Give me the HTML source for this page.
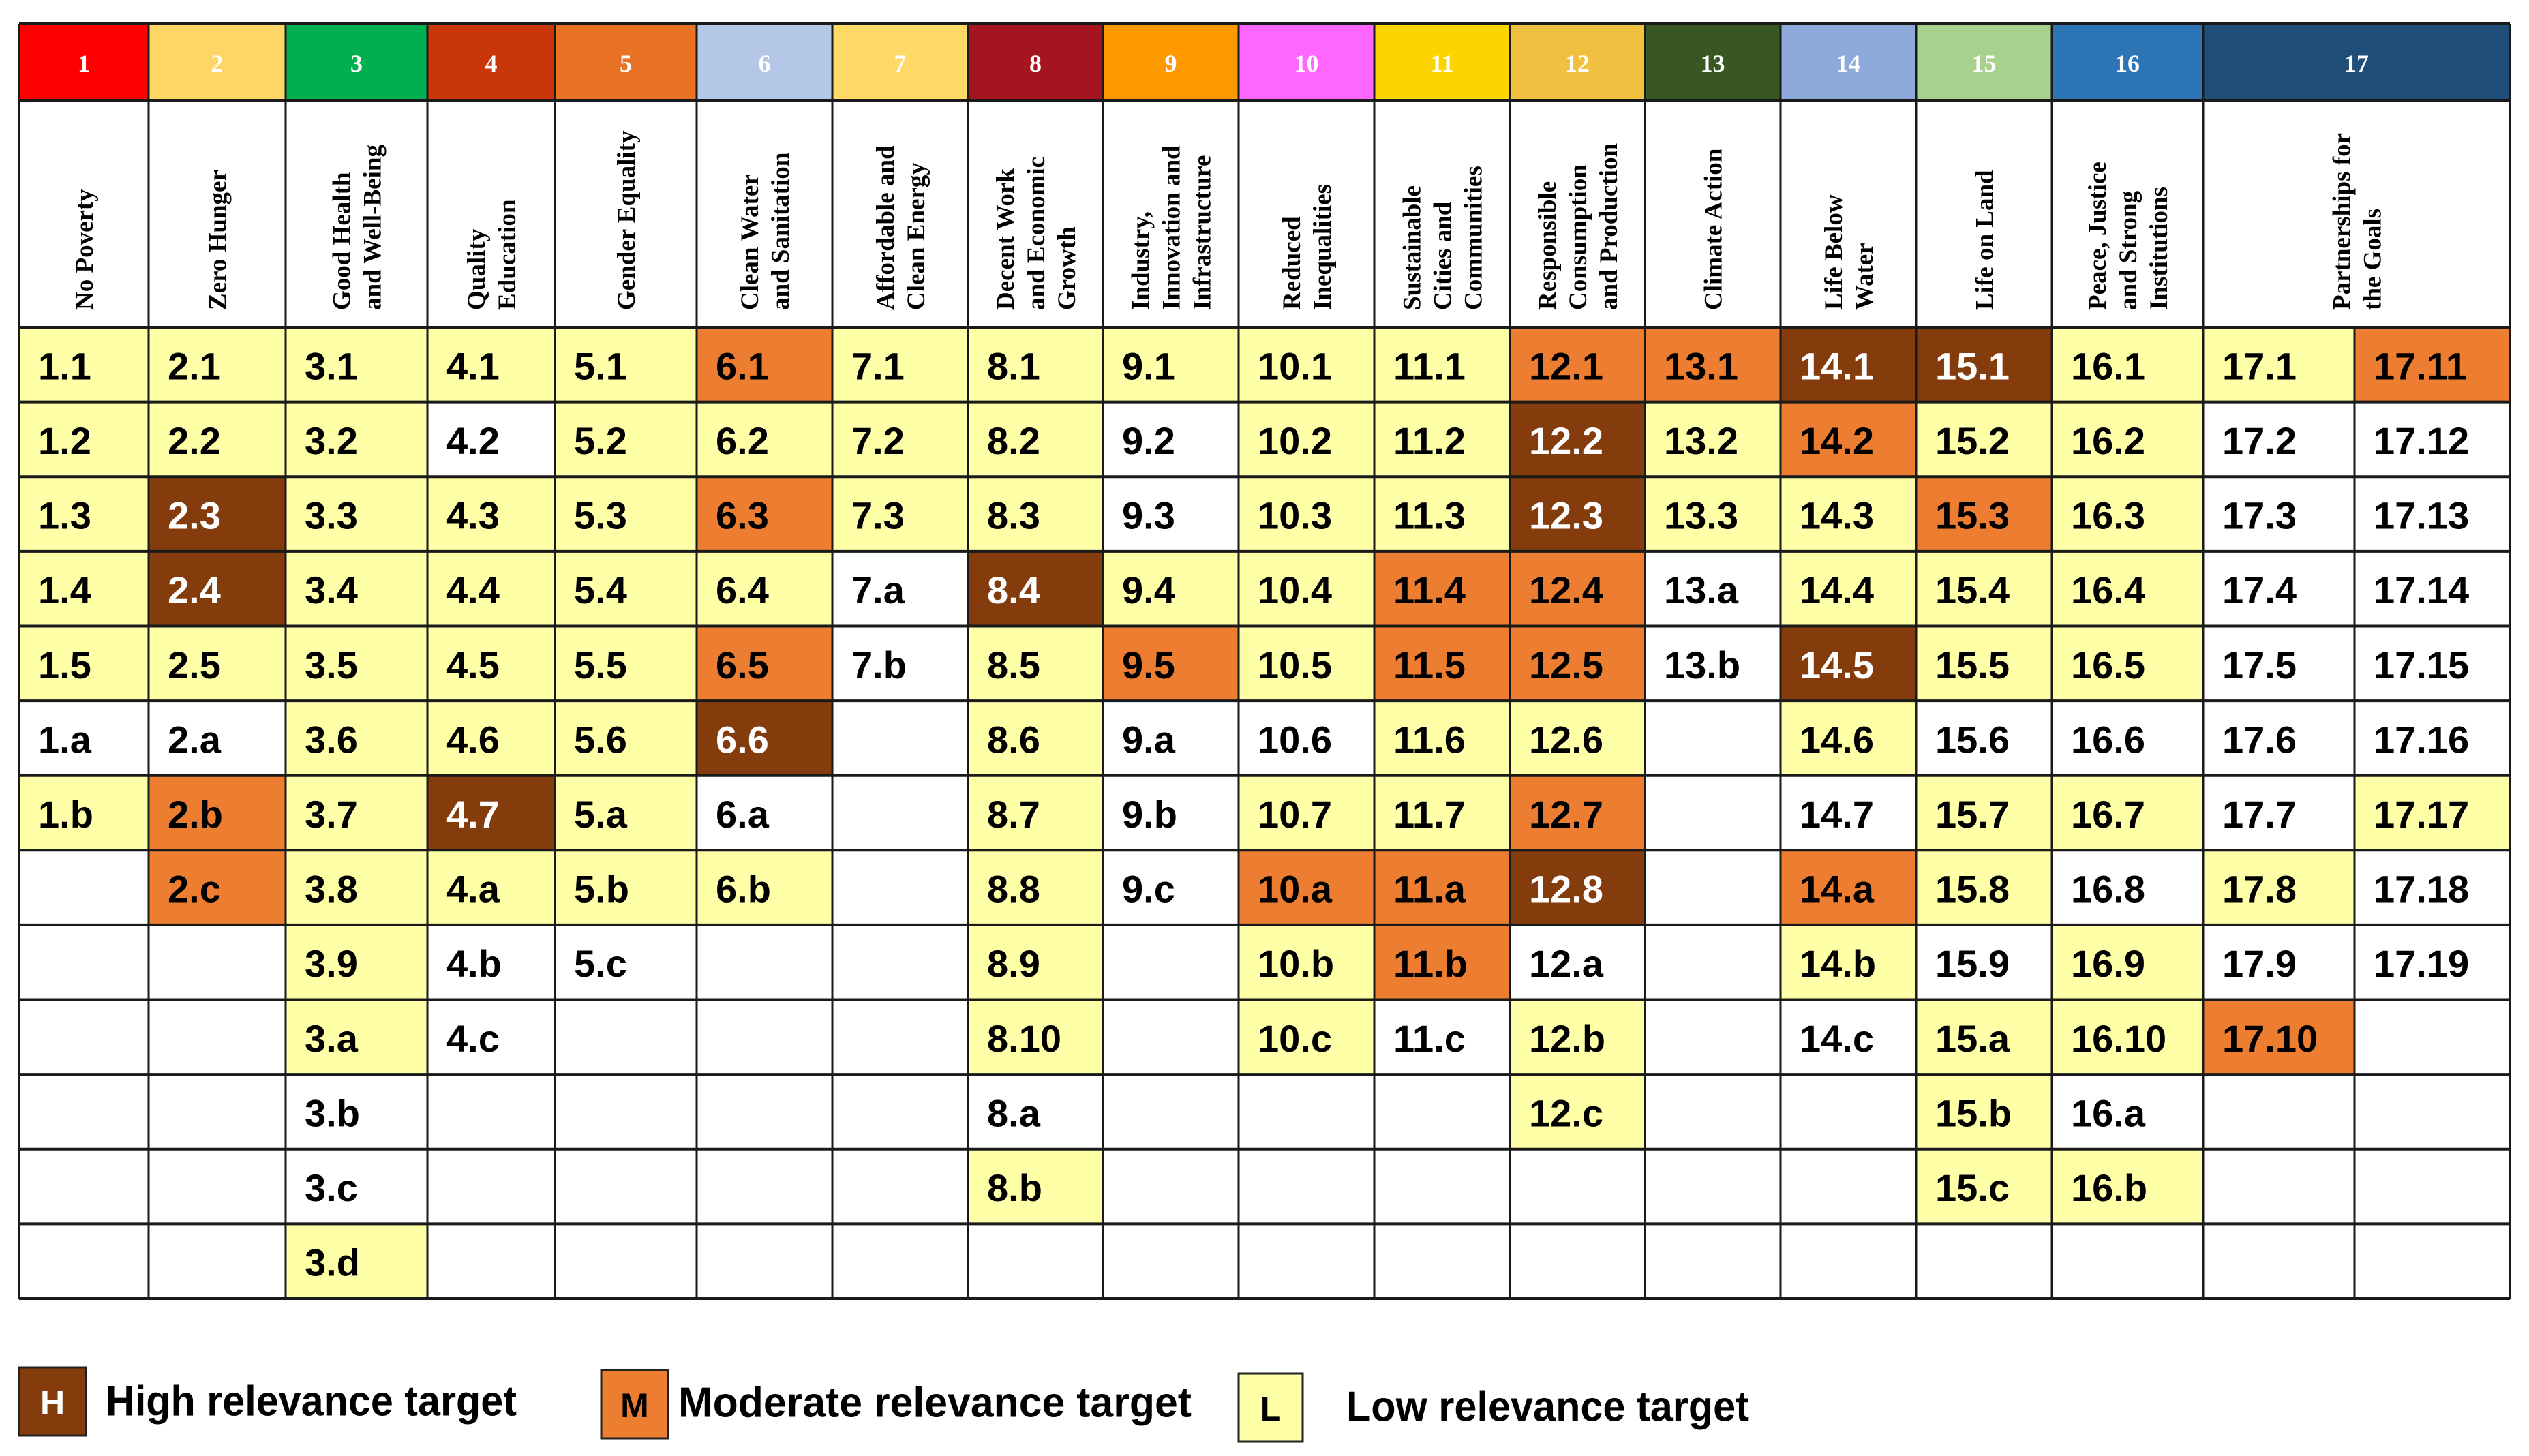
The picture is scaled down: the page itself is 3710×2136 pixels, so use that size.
<!DOCTYPE html>
<html><head><meta charset="utf-8">
<style>
html,body{margin:0;padding:0;background:#fff;}
svg{display:block;}
</style></head>
<body>
<svg id="chart" xmlns="http://www.w3.org/2000/svg" width="3710" height="2136" viewBox="0 0 3710 2136">
<rect x="0" y="0" width="3710" height="2136" fill="#fff"/>
<g id="cells"></g>
<g id="grid"></g>
<g id="texts"></g>
<g id="legend">
  <g>
    <rect x="28" y="2006" width="98" height="100" fill="#843c0c" stroke="#222" stroke-width="3"/>
    <text x="77" y="2058" fill="#fff" font-family="Liberation Sans, sans-serif" font-weight="bold" font-size="50" text-anchor="middle" dominant-baseline="central">H</text>
    <text x="155" y="2056" font-family="Liberation Sans, sans-serif" font-weight="bold" font-size="62" dominant-baseline="central" textLength="603" lengthAdjust="spacingAndGlyphs">High relevance target</text>
  </g>
  <g>
    <rect x="882" y="2010" width="98" height="100" fill="#ed7d31" stroke="#222" stroke-width="3"/>
    <text x="931" y="2062" fill="#000" font-family="Liberation Sans, sans-serif" font-weight="bold" font-size="50" text-anchor="middle" dominant-baseline="central">M</text>
    <text x="995" y="2058" font-family="Liberation Sans, sans-serif" font-weight="bold" font-size="62" dominant-baseline="central" textLength="753" lengthAdjust="spacingAndGlyphs">Moderate relevance target</text>
  </g>
  <g>
    <rect x="1817" y="2015" width="94" height="100" fill="#ffffa8" stroke="#222" stroke-width="3"/>
    <text x="1864" y="2067" fill="#000" font-family="Liberation Sans, sans-serif" font-weight="bold" font-size="50" text-anchor="middle" dominant-baseline="central">L</text>
    <text x="1975" y="2064" font-family="Liberation Sans, sans-serif" font-weight="bold" font-size="62" dominant-baseline="central" textLength="591" lengthAdjust="spacingAndGlyphs">Low relevance target</text>
  </g>
</g>
</svg>
<script>
const goalNumbers = ["1","2","3","4","5","6","7","8","9","10","11","12","13","14","15","16","17"];
const goalColors = ["#ff0000","#fdd666","#00b050","#c93609","#e97324","#b4c7e7","#ffd966","#a5151f","#ff9900","#ff66ff","#fbd500","#f0c040","#385723","#8eaadb","#a9d18e","#2e75b6","#1f4e79"];
const goalNames = [
 ["No Poverty"],["Zero Hunger"],["Good Health","and Well-Being"],["Quality","Education"],["Gender Equality"],
 ["Clean Water","and Sanitation"],["Affordable and","Clean Energy"],["Decent Work","and Economic","Growth"],
 ["Industry,","Innovation and","Infrastructure"],["Reduced","Inequalities"],["Sustainable","Cities and","Communities"],
 ["Responsible","Consumption","and Production"],["Climate Action"],["Life Below","Water"],["Life on Land"],
 ["Peace, Justice","and Strong","Institutions"],["Partnerships for","the Goals"]];
const col1 = ["1.1:L","1.2:L","1.3:L","1.4:L","1.5:L","1.a:W","1.b:L"];
const col2 = ["2.1:L","2.2:L","2.3:H","2.4:H","2.5:L","2.a:W","2.b:M","2.c:M"];
const col3 = ["3.1:L","3.2:L","3.3:L","3.4:L","3.5:L","3.6:L","3.7:L","3.8:L","3.9:L","3.a:L","3.b:W","3.c:W","3.d:L"];
const col4 = ["4.1:L","4.2:W","4.3:L","4.4:L","4.5:L","4.6:L","4.7:H","4.a:L","4.b:W","4.c:W"];
const col5 = ["5.1:L","5.2:L","5.3:L","5.4:L","5.5:L","5.6:L","5.a:L","5.b:L","5.c:W"];
const col6 = ["6.1:M","6.2:L","6.3:M","6.4:L","6.5:M","6.6:H","6.a:W","6.b:L"];
const col7 = ["7.1:L","7.2:L","7.3:L","7.a:W","7.b:W"];
const col8 = ["8.1:L","8.2:L","8.3:L","8.4:H","8.5:L","8.6:L","8.7:L","8.8:L","8.9:L","8.10:L","8.a:W","8.b:L"];
const col9 = ["9.1:L","9.2:W","9.3:W","9.4:L","9.5:M","9.a:W","9.b:W","9.c:W"];
const col10 = ["10.1:L","10.2:L","10.3:L","10.4:L","10.5:L","10.6:W","10.7:L","10.a:M","10.b:L","10.c:L"];
const col11 = ["11.1:L","11.2:L","11.3:L","11.4:M","11.5:M","11.6:L","11.7:L","11.a:M","11.b:M","11.c:W"];
const col12 = ["12.1:M","12.2:H","12.3:H","12.4:M","12.5:M","12.6:L","12.7:M","12.8:H","12.a:W","12.b:L","12.c:L"];
const col13 = ["13.1:M","13.2:L","13.3:L","13.a:W","13.b:W"];
const col14 = ["14.1:H","14.2:M","14.3:L","14.4:L","14.5:H","14.6:L","14.7:W","14.a:M","14.b:L","14.c:W"];
const col15 = ["15.1:H","15.2:L","15.3:M","15.4:L","15.5:L","15.6:W","15.7:L","15.8:L","15.9:W","15.a:L","15.b:L","15.c:L"];
const col16 = ["16.1:L","16.2:L","16.3:L","16.4:L","16.5:L","16.6:W","16.7:L","16.8:W","16.9:L","16.10:L","16.a:W","16.b:L"];
const col17a = ["17.1:L","17.2:W","17.3:W","17.4:W","17.5:W","17.6:W","17.7:W","17.8:L","17.9:W","17.10:M"];
const col17b = ["17.11:M","17.12:W","17.13:W","17.14:W","17.15:W","17.16:W","17.17:L","17.18:W","17.19:W"];
const targetCols = [col1,col2,col3,col4,col5,col6,col7,col8,col9,col10,col11,col12,col13,col14,col15,col16,col17a,col17b];

const NS="http://www.w3.org/2000/svg";
const X=[28,218,419,627,814,1022,1221,1420,1618,1817,2016,2215,2413,2612,2811,3010,3232,3454,3682];
const TOP=35, HEAD_B=147, LAB_B=480, BOT=1905, NROWS=13;
const RH=(BOT-LAB_B)/NROWS;
const fills={H:"#843c0c",M:"#ed7d31",L:"#ffffa8",W:"#ffffff"};
function goalX0(i){return X[i];}
function goalX1(i){return i===16?X[18]:X[i+1];}
function rowY(r){return LAB_B+r*RH;}
function mk(tag,attrs,parent){const e=document.createElementNS(NS,tag);for(const k in attrs)e.setAttribute(k,attrs[k]);parent.appendChild(e);return e;}
const gC=document.getElementById('cells'),gG=document.getElementById('grid'),gT=document.getElementById('texts');

goalNumbers.forEach((n,i)=>{
  const x0=goalX0(i),x1=goalX1(i);
  const r=mk('rect',{x:x0,y:TOP,width:x1-x0,height:HEAD_B-TOP,fill:goalColors[i]},gC);
  
  
  const t=mk('text',{x:(x0+x1)/2,y:(TOP+HEAD_B)/2+2,fill:'#fff','font-family':'Liberation Serif, serif','font-weight':'bold','font-size':36,'text-anchor':'middle','dominant-baseline':'central'},gT);
  t.textContent=n;
  
  
  const lines=goalNames[i];const LS=45;
  const cx=(x0+x1)/2-(lines.length-1)*LS/2;
  lines.forEach((ln,k)=>{
    const lx=cx+k*LS+13;const ly=455;
    const tt=mk('text',{x:lx,y:ly,transform:`rotate(-90 ${lx} ${ly})`,'font-family':'Liberation Serif, serif','font-weight':'bold','font-size':37,fill:'#000'},gT);
    tt.textContent=ln;
    
    
  });
});

targetCols.forEach((col,c)=>{
  const x0=X[c],x1=X[c+1];
  col.forEach((s,r)=>{
    const [lab,lev]=s.split(':');
    const y0=rowY(r);
    const rc=mk('rect',{x:x0,y:y0,width:x1-x0,height:RH,fill:fills[lev]},gC);
    
    
    const t=mk('text',{x:x0+28,y:y0+RH/2+2,fill:lev==='H'?'#fff':'#000','font-family':'Liberation Sans, sans-serif','font-weight':'bold','font-size':56,'dominant-baseline':'central'},gT);
    t.textContent=lab;
    
    
  });
});

[TOP,HEAD_B,LAB_B].concat(Array.from({length:NROWS},(_,r)=>rowY(r+1))).forEach(y=>{
  const l=mk('line',{x1:X[0],x2:X[18],y1:y,y2:y,stroke:'#1a1a1a','stroke-width':4},gG);
  
  
});
X.forEach((x,i)=>{
  const yStart=(i===17)?LAB_B:TOP;
  const l=mk('line',{x1:x,x2:x,y1:yStart,y2:BOT,stroke:'#1a1a1a','stroke-width':3},gG);
  
  
});
</script>
</body></html>
